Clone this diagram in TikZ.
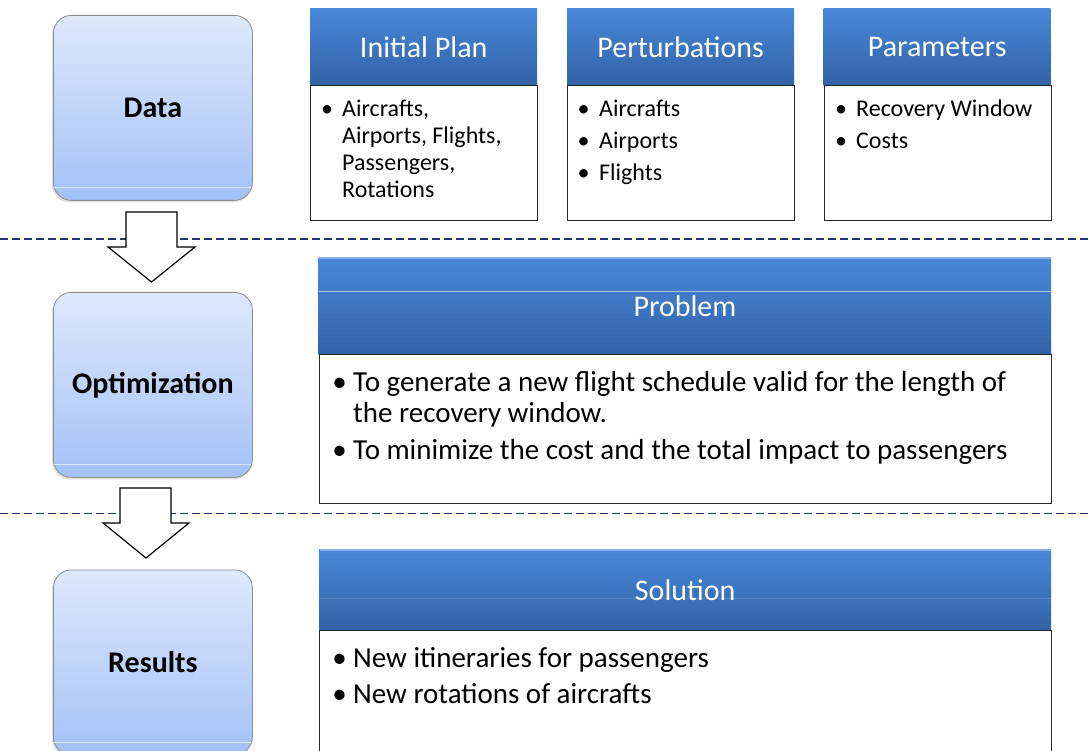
\documentclass[tikz,border=0pt]{standalone}
\usepackage{fontspec}
\setmainfont{Carlito}
\usetikzlibrary{shadows,calc}
\definecolor{hdrTop}{HTML}{4888D9}
\definecolor{hdrBot}{HTML}{3262A6}
\definecolor{lblTop}{HTML}{DEE8FB}
\definecolor{lblBot}{HTML}{A3C1F7}
\definecolor{dashc}{HTML}{1F3A6B}
\newcommand\bu[1]{\makebox[0pt][r]{\makebox[#1][c]{\textbullet}}}
\tikzset{
 lbl/.style={draw=black!45, line width=0.8pt, rounded corners=18pt, top color=lblTop, bottom color=lblBot,
   minimum width=199pt, minimum height=185pt, anchor=north west, inner sep=0pt,
   font=\fontsize{30}{35}\selectfont\bfseries, text=black,
   drop shadow={opacity=0.25, shadow xshift=-1.5pt, shadow yshift=-2pt}},
 hdr/.style={top color=hdrTop, bottom color=hdrBot, draw=none, anchor=north west, inner sep=0pt,
   text=white, font=\fontsize{30}{36}\selectfont},
 bodybox/.style={draw=black!85, line width=1pt, fill=white, anchor=north west, inner sep=0pt},
 sm/.style={anchor=base west, inner sep=0pt, font=\fontsize{24}{28}\selectfont},
 lg/.style={anchor=base west, inner sep=0pt, font=\fontsize{29}{34}\selectfont},
 blockarrow/.style={draw=black, line width=1.2pt, fill=white, line join=miter},
 sepline/.style={draw=dashc, line width=1.3pt, dash pattern=on 7.5pt off 4.5pt},
 gloss/.style={draw=white, line width=0.8pt},
}
\begin{document}
\begin{tikzpicture}[x=1pt,y=-1pt]
\useasboundingbox (0,0) rectangle (1088,751);
\clip (0,0) rectangle (1088,751);
\fill[white] (0,0) rectangle (1088,751);

% separators
\coordinate (s1a) at (0,239);   \coordinate (s1b) at (1088,239);
\coordinate (s2a) at (0,513.5); \coordinate (s2b) at (1088,513.5);
\draw[sepline] (s1a) -- (s1b);
\draw[sepline] (s2a) -- (s2b);

% stage boxes
\node[lbl] (data) at (53,15) {Data};
\node[lbl] (opt) at (53,292) {Optimization};
\node[lbl] (res) at (53,569.5) {Results};
\draw[gloss, opacity=0.6] (54,187) -- (251,187);
\draw[gloss, opacity=0.6] (54,464) -- (251,464);
\draw[gloss, opacity=0.6] (54,742) -- (251,742);

% block arrows
\draw[blockarrow] (126,212) -- (177,212) -- (177,247) -- (195,247) -- (151.5,282) -- (108,247) -- (126,247) -- cycle;
\draw[blockarrow] (120,488) -- (171,488) -- (171,523) -- (189,523) -- (146,558) -- (103,523) -- (120,523) -- cycle;

% top row
\node[hdr, minimum width=227pt, minimum height=77pt] (iph) at (310,8) {Initial Plan};
\node[bodybox, minimum width=227pt, minimum height=135pt] (ipb) at (310,85) {};
\node[hdr, minimum width=227pt, minimum height=77pt] (peh) at (567,8) {Perturbations};
\node[bodybox, minimum width=227pt, minimum height=135pt] (peb) at (567,85) {};
\node[hdr, minimum width=227pt, minimum height=77pt] (pah) at (823.5,8) {Parameters};
\node[bodybox, minimum width=227pt, minimum height=135pt] (pab) at (823.5,85) {};

\node[sm] (ip1) at (342,117) {\bu{30pt}Aircrafts,};
\node[sm] (ip2) at (342,144) {Airports, Flights,};
\node[sm] (ip3) at (342,171) {Passengers,};
\node[sm] (ip4) at (342,198) {Rotations};

\node[sm] (pe1) at (599,117) {\bu{31pt}Aircrafts};
\node[sm] (pe2) at (599,149) {\bu{31pt}Airports};
\node[sm] (pe3) at (599,181) {\bu{31pt}Flights};

\node[sm] (pa1) at (856,117) {\bu{30pt}Recovery Window};
\node[sm] (pa2) at (856,149) {\bu{30pt}Costs};

% problem
\node[hdr, minimum width=732.5pt, minimum height=97pt] (prh) at (318.5,257) {Problem};
\draw[gloss, opacity=0.35, line width=1.5pt] (319,258) -- (1050.5,258);
\draw[gloss, opacity=0.55] (318.5,291) -- (1051,291);
\node[bodybox, minimum width=732pt, minimum height=149pt] (prb) at (319,354) {};
\node[lg] (pr1) at (353,392) {\bu{27pt}To generate a new flight schedule valid for the length of};
\node[lg] (pr2) at (353,423) {the recovery window.};
\node[lg] (pr3) at (353,460) {\bu{27pt}To minimize the cost and the total impact to passengers};

% solution
\node[hdr, minimum width=732pt, minimum height=81pt] (soh) at (319,549) {Solution};
\draw[gloss, opacity=0.35, line width=1.5pt] (319.5,550) -- (1050.5,550);
\draw[gloss, opacity=0.15] (319,598) -- (1051,598);
\node[bodybox, minimum width=732pt, minimum height=140pt] (sob) at (319,630) {};
\node[lg] (so1) at (353,667) {\bu{27pt}New itineraries for passengers};
\node[lg] (so2) at (353,703) {\bu{27pt}New rotations of aircrafts};
\end{tikzpicture}
\end{document}
